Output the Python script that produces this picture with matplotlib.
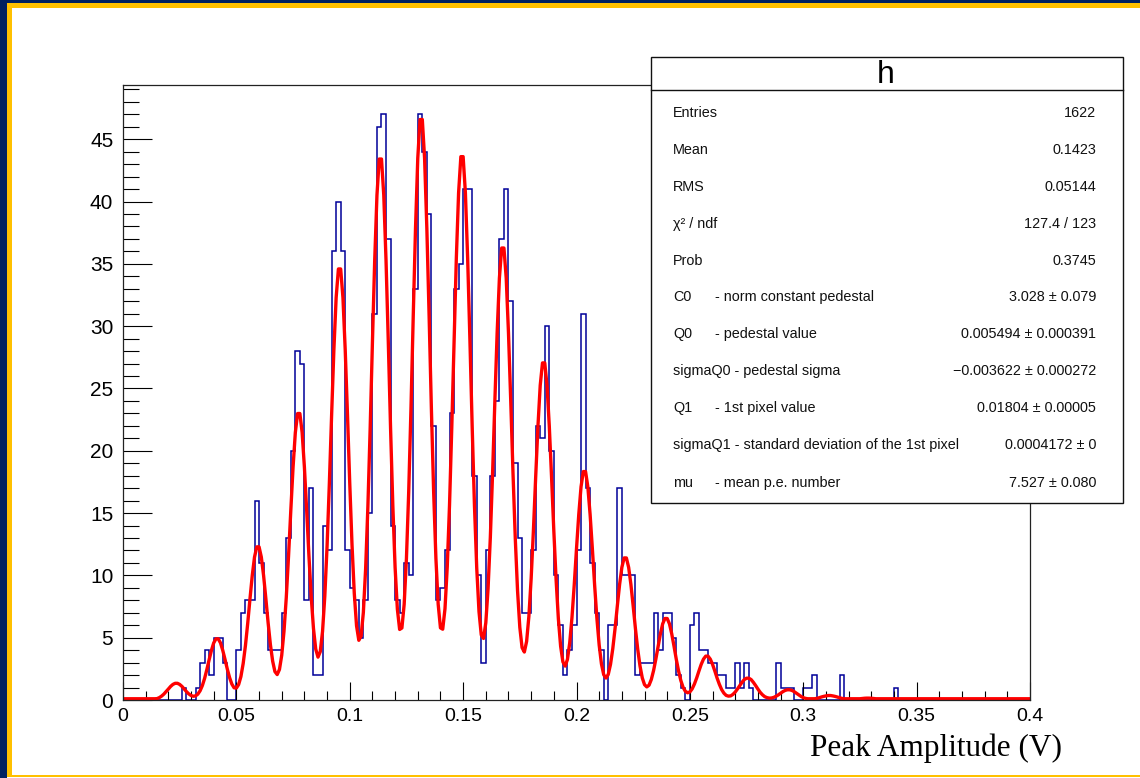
import numpy as np
import matplotlib
matplotlib.use("Agg")
import matplotlib.pyplot as plt
from matplotlib.patches import Rectangle
from matplotlib.lines import Line2D

W, H = 1140, 778

# ---------------- data ----------------
bin_lo, bin_hi, n_bins = 0.0, 0.4, 200
counts = [
    0, 0, 0, 0, 0, 0, 0, 0, 0, 0,
    0, 0, 0, 1, 0, 0, 1, 3, 4, 2,
    5, 5, 3, 0, 0, 4, 7, 8, 8, 16,
    11, 7, 4, 4, 4, 7, 13, 20, 28, 27,
    8, 17, 2, 2, 14, 12, 36, 40, 36, 12,
    9, 8, 5, 8, 15, 31, 46, 47, 37, 14,
    8, 7, 11, 10, 33, 47, 44, 39, 22, 8,
    9, 12, 23, 33, 35, 41, 41, 18, 10, 3,
    12, 18, 24, 37, 41, 32, 19, 13, 7, 7,
    12, 22, 21, 30, 20, 10, 6, 2, 4, 6,
    12, 31, 17, 11, 7, 4, 0, 6, 6, 17,
    10, 10, 10, 2, 3, 3, 3, 7, 4, 7,
    7, 5, 2, 1, 0, 6, 7, 4, 4, 3,
    3, 2, 2, 1, 1, 3, 1, 3, 1, 0,
    0, 0, 0, 0, 3, 1, 1, 1, 0, 0,
    1, 1, 2, 0, 0, 0, 0, 0, 2, 0,
    0, 0, 0, 0, 0, 0, 0, 0, 0, 0,
    1, 0, 0, 0, 0, 0, 0, 0, 0, 0,
    0, 0, 0, 0, 0, 0, 0, 0, 0, 0,
    0, 0, 0, 0, 0, 0, 0, 0, 0, 0,
]

# fit curve, sampled every 0.001 V from 0.000
fit_step = 0.001
fit_y = [
    0.1, 0.1, 0.1, 0.1, 0.1, 0.1, 0.1, 0.1, 0.1, 0.1,
    0.1, 0.1, 0.1, 0.1, 0.1, 0.11, 0.19, 0.31, 0.47, 0.67,
    0.88, 1.09, 1.25, 1.34, 1.34, 1.25, 1.09, 0.88, 0.67, 0.49,
    0.36, 0.30, 0.33, 0.47, 0.74, 1.16, 1.74, 2.46, 3.24, 3.98,
    4.58, 4.91, 4.91, 4.58, 3.98, 3.25, 2.48, 1.80, 1.28, 0.98,
    0.96, 1.24, 1.88, 2.93, 4.37, 6.15, 8.12, 9.98, 11.47, 12.29,
    12.29, 11.47, 9.99, 8.14, 6.19, 4.45, 3.12, 2.28, 2.04, 2.45,
    3.59, 5.51, 8.20, 11.53, 15.20, 18.68, 21.46, 22.99, 22.99, 21.46,
    18.69, 15.22, 11.57, 8.30, 5.74, 4.08, 3.44, 3.88, 5.50, 8.34,
    12.35, 17.35, 22.86, 28.09, 32.28, 34.59, 34.59, 32.28, 28.10, 22.89,
    17.39, 12.45, 8.55, 5.95, 4.79, 5.13, 7.02, 10.52, 15.53, 21.78,
    28.69, 35.26, 40.52, 43.41, 43.41, 40.52, 35.27, 28.72, 21.80, 15.58,
    10.64, 7.29, 5.66, 5.78, 7.68, 11.35, 16.70, 23.39, 30.82, 37.84,
    43.48, 46.58, 46.58, 43.48, 37.85, 30.82, 23.39, 16.70, 11.35, 7.68,
    5.79, 5.68, 7.32, 10.69, 15.65, 21.90, 28.82, 35.42, 40.70, 43.60,
    43.60, 40.70, 35.43, 28.85, 21.89, 15.60, 10.59, 7.09, 5.22, 4.94,
    6.19, 8.94, 13.05, 18.23, 24.00, 29.46, 33.86, 36.27, 36.27, 33.86,
    29.47, 23.99, 18.20, 12.97, 8.77, 5.83, 4.20, 3.85, 4.70, 6.71,
    9.74, 13.61, 17.91, 21.98, 25.25, 27.05, 27.05, 25.25, 21.98, 17.89,
    13.57, 9.66, 6.52, 4.31, 3.06, 2.72, 3.25, 4.57, 6.61, 9.23,
    12.14, 14.89, 17.11, 18.33, 18.33, 17.11, 14.89, 12.13, 9.20, 6.54,
    4.41, 2.90, 2.03, 1.76, 2.05, 2.86, 4.12, 5.73, 7.54, 9.26,
    10.64, 11.40, 11.40, 10.64, 9.26, 7.53, 5.71, 4.07, 2.74, 1.78,
    1.23, 1.05, 1.19, 1.65, 2.37, 3.29, 4.32, 5.31, 6.11, 6.54,
    6.54, 6.11, 5.31, 4.32, 3.27, 2.34, 1.57, 1.02, 0.70, 0.58,
    0.65, 0.89, 1.28, 1.77, 2.33, 2.86, 3.28, 3.52, 3.52, 3.28,
    2.86, 2.33, 1.76, 1.26, 0.84, 0.55, 0.37, 0.31, 0.33, 0.45,
    0.64, 0.89, 1.16, 1.42, 1.64, 1.75, 1.75, 1.64, 1.42, 1.16,
    0.88, 0.62, 0.42, 0.27, 0.19, 0.15, 0.16, 0.21, 0.30, 0.41,
    0.54, 0.67, 0.77, 0.82, 0.82, 0.77, 0.67, 0.54, 0.41, 0.29,
    0.19, 0.13, 0.10, 0.10, 0.10, 0.10, 0.13, 0.18, 0.24, 0.29,
    0.33, 0.36, 0.36, 0.33, 0.29, 0.24, 0.18, 0.13, 0.10, 0.10,
    0.10, 0.10, 0.10, 0.10, 0.10, 0.10, 0.12, 0.14, 0.15, 0.15,
    0.14, 0.12, 0.10, 0.10, 0.10, 0.10, 0.10,
]
fit_tail_x = [0.345, 0.400]
fit_tail_y = [0.10, 0.10]

xticks = [0, 0.05, 0.1, 0.15, 0.2, 0.25, 0.3, 0.35, 0.4]
xtick_labels = ["0", "0.05", "0.1", "0.15", "0.2", "0.25", "0.3", "0.35", "0.4"]
yticks = [0, 5, 10, 15, 20, 25, 30, 35, 40, 45]
ytick_labels = [str(v) for v in yticks]
x_title = "Peak Amplitude (V)"

stats_title = "h"
stats_rows = [
    ("Entries", "", "1622"),
    ("Mean", "", "0.1423"),
    ("RMS", "", "0.05144"),
    ("\u03c7\u00b2 / ndf", "", "127.4 / 123"),
    ("Prob", "", "0.3745"),
    ("C0", "- norm constant pedestal", "3.028 \u00b1 0.079"),
    ("Q0", "- pedestal value", "0.005494 \u00b1 0.000391"),
    ("sigmaQ0 - pedestal sigma", "", "\u22120.003622 \u00b1 0.000272"),
    ("Q1", "- 1st pixel value", "0.01804 \u00b1 0.00005"),
    ("sigmaQ1 - standard deviation of the 1st pixel", "", "0.0004172 \u00b1 0"),
    ("mu", "- mean p.e. number", "7.527 \u00b1 0.080"),
]

# ---------------- figure ----------------
SANS = ["Liberation Sans", "DejaVu Sans"]
SERIF = ["Liberation Serif", "DejaVu Serif"]
plt.rcParams["font.family"] = SANS

fig = plt.figure(figsize=(W / 100, H / 100), dpi=100)
fig.patch.set_facecolor("white")


def fx(x):
    return x / W


def fy(y):
    return 1 - y / H


def prect(x0, y0, x1, y1, **kw):
    r = Rectangle((fx(x0), fy(y1)), fx(x1) - fx(x0), fy(y0) - fy(y1),
                  transform=fig.transFigure, **kw)
    fig.add_artist(r)
    return r


# outer frame (navy + gold)
NAVY = "#002060"
GOLD = "#FFC000"
prect(0, 0, 7, H, facecolor=NAVY, edgecolor="none", zorder=0)
prect(0, 0, W, 3, facecolor=NAVY, edgecolor="none", zorder=0)
prect(7, 3, 12, 776, facecolor=GOLD, edgecolor="none", zorder=0)
prect(7, 3, W, 8, facecolor=GOLD, edgecolor="none", zorder=0)
prect(7, 775, W, 777, facecolor=GOLD, edgecolor="none", zorder=0)

ax = fig.add_axes([fx(123), fy(700), (1030 - 123) / W, (700 - 85) / H])
ax.set_facecolor("white")

edges = np.linspace(bin_lo, bin_hi, n_bins + 1)
ax.stairs(counts, edges, color="#000099", lw=1.1, baseline=0)

fit_x = np.arange(len(fit_y)) * fit_step
ax.plot(np.concatenate([fit_x, fit_tail_x]), np.concatenate([fit_y, fit_tail_y]),
        color="#ff0000", lw=2.4, solid_joinstyle="round", solid_capstyle="round")

ax.set_xlim(0, 0.4)
ax.set_ylim(0, 49.35)

ax.set_xticks(xticks)
ax.set_xticklabels(xtick_labels)
ax.set_yticks(yticks)
ax.set_yticklabels(ytick_labels)
ax.set_xticks(np.arange(0, 0.4001, 0.01), minor=True)
ax.set_yticks(np.arange(0, 49.01, 1), minor=True)

ax.tick_params(axis="y", which="major", direction="in", length=21, width=0.8,
               labelsize=15, pad=7, left=True, right=False)
ax.tick_params(axis="y", which="minor", direction="in", length=11.5, width=0.8,
               left=True, right=False)
ax.tick_params(axis="x", which="major", direction="in", length=13, width=0.8,
               labelsize=14, pad=6, bottom=True, top=False)
ax.tick_params(axis="x", which="minor", direction="in", length=6.5, width=0.8,
               bottom=True, top=False)
for lab in ax.get_xticklabels() + ax.get_yticklabels():
    lab.set_family(SANS)
for sp in ax.spines.values():
    sp.set_linewidth(0.9)
    sp.set_color("#222222")

fig.text(fx(1062), fy(748), x_title, ha="right", va="center",
         family=SERIF, fontsize=22.5)

# stats box
prect(651, 57, 1123, 503, facecolor="white", edgecolor="#111111", lw=1.0, zorder=5)
fig.add_artist(Line2D([fx(651), fx(1123)], [fy(90), fy(90)], transform=fig.transFigure,
                      color="#111111", lw=1.0, zorder=6))
fig.text(fx(886), fy(75), stats_title, ha="center", va="center", fontsize=23,
         family=SANS, zorder=7)
row_y = [113, 150, 187, 224, 261, 297, 334, 371, 408, 445, 483]
for (lab, desc, val), yy in zip(stats_rows, row_y):
    fig.text(fx(673), fy(yy), lab, ha="left", va="center", fontsize=10.4,
             family=SANS, zorder=7, color="#111111")
    if desc:
        fig.text(fx(715), fy(yy), desc, ha="left", va="center", fontsize=10.4,
                 family=SANS, zorder=7, color="#111111")
    fig.text(fx(1096), fy(yy), val, ha="right", va="center", fontsize=10.4,
             family=SANS, zorder=7, color="#111111")

fig.savefig("out.png", dpi=100)
